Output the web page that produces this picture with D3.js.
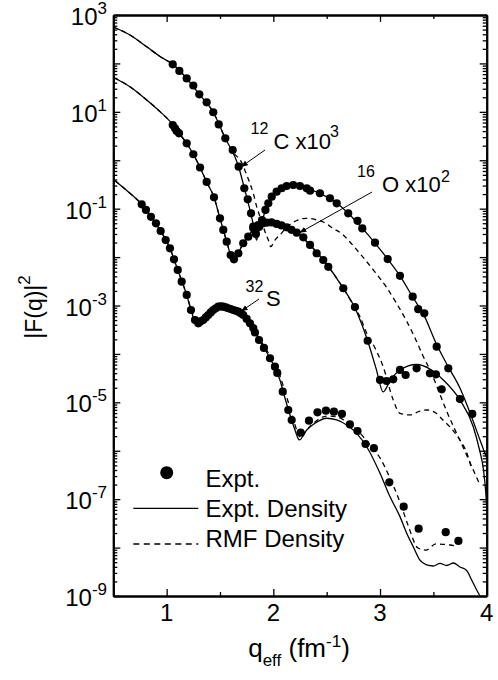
<!DOCTYPE html>
<html><head><meta charset="utf-8">
<script src="https://cdn.jsdelivr.net/npm/d3@7"></script>
<style>
html,body{margin:0;padding:0;background:#fff;}
svg{display:block;font-family:"Liberation Sans",Arial,Helvetica,sans-serif;}
</style></head><body>
<svg id="chart" width="498" height="680"></svg>
<script>
// Elastic electron scattering form factors |F(q)|^2 vs q_eff (fm^-1)
// 12C scaled x10^3, 16O scaled x10^2, 32S unscaled. Pairs are [q, |F|^2].

const c12Expt = [[1.057,96],[1.119,70],[1.188,49],[1.250,35],[1.306,23],[1.375,15.7],[1.437,9.8],[1.488,5.5],[1.550,2.84],[1.619,1.63],[1.675,0.736],[1.728,0.264],[1.760,0.156],[1.791,0.080],[1.812,0.0425],[1.837,0.030],[1.866,0.042],[1.894,0.058],[1.926,0.094],[1.953,0.129],[1.985,0.177],[2.031,0.224],[2.078,0.264],[2.125,0.294],[2.187,0.308],[2.250,0.294],[2.313,0.264],[2.344,0.235],[2.437,0.208],[2.531,0.164],[2.594,0.129],[2.702,0.080],[2.789,0.056],[2.834,0.039],[2.953,0.0198],[3.072,0.0091],[3.187,0.0041],[3.306,0.00152],[3.358,8.4e-4],[3.415,6.9e-4],[3.531,1.41e-4],[3.640,5.05e-5],[3.865,5.75e-6]];
const c12ExptDensity = [[0.5,565],[0.656,386],[0.813,221],[0.938,139],[1.057,96],[1.188,49],[1.306,23],[1.437,9.8],[1.550,2.84],[1.675,0.736],[1.728,0.267],[1.781,0.094],[1.819,0.040],[1.842,0.0225],[1.866,0.0363],[1.906,0.068],[1.953,0.125],[2.031,0.221],[2.125,0.287],[2.203,0.308],[2.313,0.267],[2.437,0.206],[2.594,0.131],[2.718,0.074],[2.831,0.040],[2.953,0.0195],[3.072,0.0091],[3.187,0.0041],[3.306,0.0015],[3.415,6.1e-4],[3.524,1.68e-4],[3.640,5.4e-5],[3.749,1.98e-5],[3.862,4.75e-6],[3.937,1.67e-6],[4.0,7.1e-7]];
const c12Rmf = [[0.5,565],[0.656,386],[0.813,221],[0.938,139],[1.057,96],[1.188,49],[1.306,23],[1.437,9.8],[1.550,2.84],[1.622,1.48],[1.703,0.90],[1.750,0.50],[1.781,0.334],[1.812,0.208],[1.844,0.110],[1.875,0.068],[1.922,0.0335],[1.953,0.0225],[1.975,0.0164],[2.015,0.0225],[2.062,0.0286],[2.137,0.0438],[2.219,0.057],[2.313,0.0633],[2.390,0.0598],[2.468,0.053],[2.562,0.039],[2.656,0.0286],[2.718,0.0205],[2.840,0.0100],[2.953,0.0049],[3.065,0.0023],[3.159,0.00107],[3.253,4.6e-4],[3.328,2.13e-4],[3.403,9.1e-5],[3.478,4.2e-5],[3.553,1.64e-5],[3.628,6.3e-6],[3.703,2.7e-6],[3.778,1.2e-6],[3.853,5.1e-7],[3.937,1.96e-7]];

const o16Expt = [[1.057,5.35],[1.078,4.57],[1.094,4.02],[1.116,3.60],[1.188,2.24],[1.250,1.33],[1.313,0.708],[1.375,0.356],[1.444,0.172],[1.500,0.0633],[1.531,0.0363],[1.563,0.0208],[1.600,0.0110],[1.631,0.0090],[1.672,0.0120],[1.718,0.0193],[1.765,0.0264],[1.812,0.0393],[1.859,0.046],[1.898,0.0494],[1.938,0.0513],[1.983,0.0519],[2.031,0.0483],[2.076,0.045],[2.125,0.0412],[2.170,0.0366],[2.219,0.0319],[2.281,0.0256],[2.344,0.0178],[2.406,0.0120],[2.468,0.0087],[2.515,0.0063],[2.656,0.00227],[2.765,9.3e-4],[2.884,1.87e-4],[3.000,2.9e-5],[3.062,2.76e-5],[3.124,2.99e-5],[3.187,4.67e-5],[3.240,3.67e-5],[3.343,5.05e-5],[3.468,3.98e-5],[3.524,3.79e-5],[3.578,1.86e-5],[3.749,1.17e-5]];
const o16ExptDensity = [[0.507,50.7],[0.656,33.0],[0.813,17.6],[0.938,10.1],[1.047,5.8],[1.116,3.60],[1.188,2.24],[1.250,1.33],[1.313,0.708],[1.375,0.356],[1.444,0.172],[1.500,0.0633],[1.563,0.0208],[1.600,0.0110],[1.627,0.0079],[1.672,0.0120],[1.718,0.0193],[1.765,0.0264],[1.812,0.0372],[1.859,0.045],[1.938,0.0506],[2.031,0.0483],[2.125,0.0408],[2.219,0.0319],[2.344,0.0178],[2.468,0.0087],[2.656,0.00227],[2.765,8.9e-4],[2.884,1.87e-4],[2.962,5.1e-5],[3.030,1.64e-5],[3.093,2.76e-5],[3.187,4.66e-5],[3.343,6.05e-5],[3.468,4.89e-5],[3.593,2.9e-5],[3.749,1.12e-5],[3.874,3.14e-6],[3.930,1.1e-6],[3.970,4.0e-7],[3.990,1.5e-7],[4.0,7.0e-8]];
const o16Rmf = [[0.507,50.7],[0.656,33.0],[0.813,17.6],[0.938,10.1],[1.047,5.8],[1.116,3.60],[1.188,2.24],[1.250,1.33],[1.313,0.708],[1.375,0.356],[1.444,0.172],[1.500,0.0633],[1.563,0.0208],[1.600,0.0110],[1.627,0.0079],[1.672,0.0120],[1.718,0.0193],[1.765,0.0264],[1.812,0.0372],[1.859,0.045],[1.938,0.0506],[2.031,0.0483],[2.125,0.0408],[2.219,0.0319],[2.344,0.0178],[2.468,0.0087],[2.656,0.00227],[2.765,8.9e-4],[2.812,5.9e-4],[2.875,2.67e-4],[2.953,1.33e-4],[3.030,5.4e-5],[3.124,1.12e-5],[3.187,5.9e-6],[3.281,5.5e-6],[3.374,6.6e-6],[3.440,6.95e-6],[3.524,6.0e-6],[3.590,4.3e-6],[3.656,3.1e-6],[3.749,1.67e-6],[3.815,8.9e-7],[3.862,4.0e-7]];

const s32Expt = [[0.766,0.123],[0.806,0.094],[0.853,0.068],[0.900,0.0499],[0.944,0.0346],[0.991,0.0225],[1.031,0.0152],[1.069,0.0090],[1.104,0.00542],[1.141,0.0031],[1.188,0.00165],[1.228,8.07e-4],[1.266,5.02e-4],[1.297,4.29e-4],[1.317,4.68e-4],[1.343,5.02e-4],[1.367,5.66e-4],[1.390,6.37e-4],[1.414,7.18e-4],[1.437,8.07e-4],[1.461,8.77e-4],[1.484,9.45e-4],[1.508,9.55e-4],[1.531,9.45e-4],[1.554,9.19e-4],[1.578,8.77e-4],[1.601,8.47e-4],[1.625,8.07e-4],[1.648,7.78e-4],[1.672,7.45e-4],[1.695,6.9e-4],[1.718,6.37e-4],[1.750,5.27e-4],[1.781,4.29e-4],[1.812,3.43e-4],[1.828,2.77e-4],[1.866,1.94e-4],[1.912,1.33e-4],[1.969,8.13e-5],[2.015,5.45e-5],[2.037,4.04e-5],[2.088,1.66e-5],[2.140,6.95e-6],[2.172,4.32e-6],[2.256,2.36e-6],[2.334,4.18e-6],[2.414,6.23e-6],[2.493,6.73e-6],[2.568,6.41e-6],[2.643,5.75e-6],[2.718,3.49e-6],[2.789,2.56e-6],[2.864,1.38e-6],[2.943,1.13e-6],[3.087,2.23e-7],[3.222,7.0e-8],[3.362,2.46e-8],[3.616,2.08e-8],[3.735,1.37e-8]];
const s32ExptDensity = [[0.516,0.378],[0.656,0.208],[0.766,0.123],[0.853,0.068],[0.944,0.0346],[1.031,0.0152],[1.104,0.00542],[1.188,0.00165],[1.228,8.07e-4],[1.261,4.79e-4],[1.284,3.77e-4],[1.313,4.46e-4],[1.390,6.37e-4],[1.484,9.1e-4],[1.578,9.1e-4],[1.672,7.35e-4],[1.781,4.29e-4],[1.866,1.94e-4],[1.969,8.13e-5],[2.062,2.9e-5],[2.109,1.23e-5],[2.165,4.75e-6],[2.203,2.69e-6],[2.243,1.67e-6],[2.313,2.69e-6],[2.390,3.69e-6],[2.500,4.69e-6],[2.594,4.32e-6],[2.687,3.41e-6],[2.781,2.29e-6],[2.875,1.21e-6],[3.000,3.43e-7],[3.093,1.13e-7],[3.187,4.36e-8],[3.250,1.98e-8],[3.312,1.04e-8],[3.374,5.5e-9],[3.437,4.4e-9],[3.499,4.17e-9],[3.562,4.7e-9],[3.625,4.27e-9],[3.687,4.8e-9],[3.749,3.98e-9],[3.812,3.37e-9],[3.859,2.14e-9],[3.906,1.33e-9],[3.937,1.0e-9]];
const s32Rmf = [[0.516,0.378],[0.656,0.208],[0.766,0.123],[0.853,0.068],[0.944,0.0346],[1.031,0.0152],[1.104,0.00542],[1.188,0.00165],[1.228,8.5e-4],[1.266,5.5e-4],[1.298,4.57e-4],[1.331,5.0e-4],[1.390,6.7e-4],[1.484,9.3e-4],[1.578,9.3e-4],[1.672,7.7e-4],[1.781,4.57e-4],[1.866,2.13e-4],[1.969,9.1e-5],[2.062,3.5e-5],[2.128,1.23e-5],[2.184,4.75e-6],[2.226,2.44e-6],[2.259,1.84e-6],[2.306,2.56e-6],[2.390,3.93e-6],[2.503,5.2e-6],[2.596,4.99e-6],[2.690,3.93e-6],[2.793,2.56e-6],[2.905,1.32e-6],[3.000,7.1e-7],[3.093,2.74e-7],[3.187,8.7e-8],[3.262,2.93e-8],[3.356,9.8e-9],[3.431,8.9e-9],[3.524,1.19e-8],[3.656,1.13e-8],[3.712,1.08e-8]];

const xMajorTicks = [1, 2, 3, 4];
const xMinorTicks = [0.5, 1.5, 2.5, 3.5];
const yLabelExponents = [3, 1, -1, -3, -5, -7, -9];
const legendLabels = ["Expt.", "Expt. Density", "RMF Density"];

const svg = d3.select("#chart");
const plot = {left: 113.3, right: 486.7, top: 15, bottom: 596};
const x = d3.scaleLinear().domain([0.5, 4]).range([plot.left, plot.right]);
const y = d3.scaleLog().domain([1e-9, 1e3]).range([plot.bottom, plot.top]);

const yMajor = d3.range(-9, 4).map(e => Math.pow(10, e));
const yMinor = [];
d3.range(-9, 3).forEach(e => { for (let k = 2; k <= 9; k++) yMinor.push(k * Math.pow(10, e)); });

// clip region for curves
const defs = svg.append("defs");
defs.append("clipPath").attr("id", "plotClip")
  .append("rect").attr("x", plot.left).attr("y", plot.top)
  .attr("width", plot.right - plot.left).attr("height", plot.bottom - plot.top);

defs.append("marker").attr("id", "arrowHead")
  .attr("viewBox", "0 0 10 10").attr("refX", 9).attr("refY", 5)
  .attr("markerWidth", 7).attr("markerHeight", 7).attr("markerUnits", "userSpaceOnUse")
  .attr("orient", "auto")
  .append("path").attr("d", "M0,1 L10,5 L0,9 Z").attr("fill", "#000");

// axes with inward ticks on all four sides
function styleAxis(g) {
  g.selectAll("path.domain").attr("stroke", "#000").attr("stroke-width", 2);
  g.selectAll(".tick line").attr("stroke", "#000").attr("stroke-width", 1.3);
  g.selectAll(".tick text").remove();
}
const axes = svg.append("g");
axes.append("g").attr("transform", `translate(0,${plot.bottom})`)
  .call(d3.axisBottom(x).tickValues(xMajorTicks).tickSize(-7).tickSizeOuter(0)).call(styleAxis);
axes.append("g").attr("transform", `translate(0,${plot.bottom})`)
  .call(d3.axisBottom(x).tickValues(xMinorTicks).tickSize(-4).tickSizeOuter(0)).call(styleAxis);
axes.append("g").attr("transform", `translate(0,${plot.top})`)
  .call(d3.axisTop(x).tickValues(xMajorTicks).tickSize(-7).tickSizeOuter(0)).call(styleAxis);
axes.append("g").attr("transform", `translate(0,${plot.top})`)
  .call(d3.axisTop(x).tickValues(xMinorTicks).tickSize(-4).tickSizeOuter(0)).call(styleAxis);
axes.append("g").attr("transform", `translate(${plot.left},0)`)
  .call(d3.axisLeft(y).tickValues(yMajor).tickSize(-7).tickSizeOuter(0)).call(styleAxis);
axes.append("g").attr("transform", `translate(${plot.left},0)`)
  .call(d3.axisLeft(y).tickValues(yMinor).tickSize(-4).tickSizeOuter(0)).call(styleAxis);
axes.append("g").attr("transform", `translate(${plot.right},0)`)
  .call(d3.axisRight(y).tickValues(yMajor).tickSize(-7).tickSizeOuter(0)).call(styleAxis);
axes.append("g").attr("transform", `translate(${plot.right},0)`)
  .call(d3.axisRight(y).tickValues(yMinor).tickSize(-4).tickSizeOuter(0)).call(styleAxis);

// tick labels
svg.append("g").selectAll("text").data(xMajorTicks).join("text")
  .attr("x", d => x(d)).attr("y", plot.bottom + 24.5)
  .attr("text-anchor", "middle").attr("font-size", 24).text(d => String(d));

const yl = svg.append("g").selectAll("text").data(yLabelExponents).join("text")
  .attr("x", 107).attr("y", d => y(Math.pow(10, d)) + 10)
  .attr("text-anchor", "end").attr("font-size", 24);
yl.append("tspan").text("10");
yl.append("tspan").attr("font-size", 17).attr("dy", -11).text(d => d < 0 ? "-" + Math.abs(d) : String(d));

// axis titles
const yt = svg.append("text").attr("transform", "translate(42,307) rotate(-90)")
  .attr("text-anchor", "middle").attr("font-size", 23);
yt.append("tspan").text("|F(q)|");
yt.append("tspan").attr("font-size", 17).attr("dy", -12).text("2");

const xt = svg.append("text").attr("x", 299).attr("y", 657)
  .attr("text-anchor", "middle").attr("font-size", 26);
xt.append("tspan").text("q");
xt.append("tspan").attr("font-size", 17).attr("dy", 9).text("eff");
xt.append("tspan").attr("dy", -9).text(" (fm");
xt.append("tspan").attr("font-size", 17).attr("dy", -10).text("-1");
xt.append("tspan").attr("dy", 10).text(")");

// curves
const line = d3.line().x(d => x(d[0])).y(d => y(d[1])).curve(d3.curveMonotoneX);
const curves = svg.append("g").attr("clip-path", "url(#plotClip)");
[c12ExptDensity, o16ExptDensity, s32ExptDensity].forEach(s => {
  curves.append("path").datum(s).attr("d", line)
    .attr("fill", "none").attr("stroke", "#000").attr("stroke-width", 1.3);
});
[c12Rmf, o16Rmf, s32Rmf].forEach(s => {
  curves.append("path").datum(s).attr("d", line)
    .attr("fill", "none").attr("stroke", "#000").attr("stroke-width", 1.3)
    .attr("stroke-dasharray", "5,4");
});
[c12Expt, o16Expt, s32Expt].forEach(s => {
  curves.append("g").selectAll("circle").data(s).join("circle")
    .attr("cx", d => x(d[0])).attr("cy", d => y(d[1])).attr("r", 4.1).attr("fill", "#000");
});

// nucleus labels with pointer arrows
function arrow(x1, y1, x2, y2) {
  svg.append("line").attr("x1", x1).attr("y1", y1).attr("x2", x2).attr("y2", y2)
    .attr("stroke", "#000").attr("stroke-width", 1).attr("marker-end", "url(#arrowHead)");
}
function nucleusLabel(massX, massY, mass, symX, symY, sym, exp, expX, expY) {
  svg.append("text").attr("x", massX).attr("y", massY).attr("font-size", 16).text(mass);
  svg.append("text").attr("x", symX).attr("y", symY).attr("font-size", 22).text(sym);
  if (exp) svg.append("text").attr("x", expX).attr("y", expY).attr("font-size", 16).text(exp);
}
nucleusLabel(250.5, 133.5, "12", 273.5, 148.5, "C x10", "3", 330, 136.5);
arrow(265, 150, 241.5, 166.5);
nucleusLabel(357, 177, "16", 382, 192, "O x10", "2", 441, 182);
arrow(372, 192, 300, 232.5);
nucleusLabel(245.5, 292, "32", 266, 305.5, "S", null);
arrow(259, 299, 241.5, 311);

// legend
const lg = svg.append("g");
lg.append("circle").attr("cx", 166.7).attr("cy", 472.7).attr("r", 6.5).attr("fill", "#000");
lg.append("line").attr("x1", 133.3).attr("x2", 198.3).attr("y1", 508.3).attr("y2", 508.3)
  .attr("stroke", "#000").attr("stroke-width", 1.3);
lg.append("line").attr("x1", 133.3).attr("x2", 198.3).attr("y1", 544).attr("y2", 544)
  .attr("stroke", "#000").attr("stroke-width", 1.3).attr("stroke-dasharray", "6,4.5");
lg.selectAll("text").data(legendLabels).join("text")
  .attr("x", 205.5).attr("y", (d, i) => [486.7, 517.3, 547.3][i])
  .attr("font-size", 24).text(d => d);
</script>
</body></html>
